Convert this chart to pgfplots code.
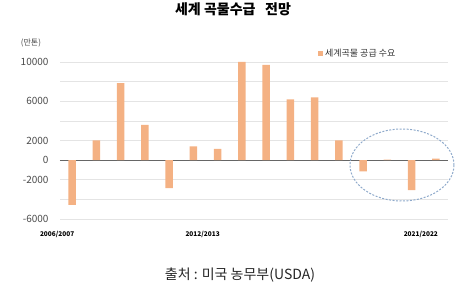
\documentclass[border=0pt]{standalone}
\usepackage{fontspec}
\setmainfont{Noto Sans CJK KR}
\usepackage{pgfplots}
\pgfplotsset{compat=1.18}
\definecolor{barc}{HTML}{F4B183}
\definecolor{gridc}{HTML}{E4E4E4}
\definecolor{tickc}{HTML}{4A4A4A}
\definecolor{ellc}{HTML}{8FAACB}
\begin{document}
\begin{tikzpicture}[x=1pt,y=1pt]
\path[use as bounding box] (0,0) rectangle (459,299);
\node[font=\bfseries\fontsize{14}{16}\selectfont] at (233,290) {세계 곡물수급\ \ \ 전망};
\node[font=\fontsize{14}{16}\selectfont, text=black!85] at (240,24) {출처 : 미국 농무부(USDA)};
\node[font=\fontsize{8}{9}\selectfont, text=tickc] at (31,256) {(만톤)};
\begin{axis}[
  at={(60pt,80pt)}, anchor=south west, scale only axis,
  width=388pt, height=157pt,
  xmin=0.5, xmax=16.5, ymin=-6000, ymax=10000,
  clip=false, scaled y ticks=false,
  axis line style={draw=none}, tick style={draw=none},
  ytick={-6000,-4000,-2000,0,2000,4000,6000,8000,10000},
  yticklabels={-6000,{},-2000,0,2000,{},6000,{},10000},
  yticklabel style={font=\fontsize{10}{11}\selectfont, text=tickc, xshift=-8pt},
  ymajorgrids, grid style={gridc, line width=0.6pt},
  extra y ticks={0}, extra y tick labels={},
  extra y tick style={grid style={black!60, line width=0.9pt}},
  xtick={1,7,16},
  xticklabels={2006/2007,2012/2013,2021/2022},
  xticklabel style={font=\bfseries\fontsize{6.5}{8}\selectfont, xshift=-15pt, yshift=-9pt},
  legend style={at={(axis description cs:0.657,1.057)}, anchor=west, draw=none, fill=none,
    font=\fontsize{9}{10}\selectfont, text=black!80},
  legend image code/.code={\fill[barc] (0pt,-2.5pt) rectangle (5pt,2.5pt);},
]
\addplot[ybar, bar width=7.5pt, fill=barc, draw=none] coordinates {
(1,-4550) (2,2000) (3,7850) (4,3600) (5,-2850) (6,1400) (7,1150) (8,10000)
(9,9700) (10,6200) (11,6400) (12,2000) (13,-1150) (14,40) (15,-3050) (16,150)
};
\addlegendentry{세계곡물 공급 수요}
\end{axis}
\draw[ellc, line width=1pt, dash pattern=on 2pt off 1.5pt] (402,134) ellipse [x radius=52, y radius=36];
\end{tikzpicture}
\end{document}
